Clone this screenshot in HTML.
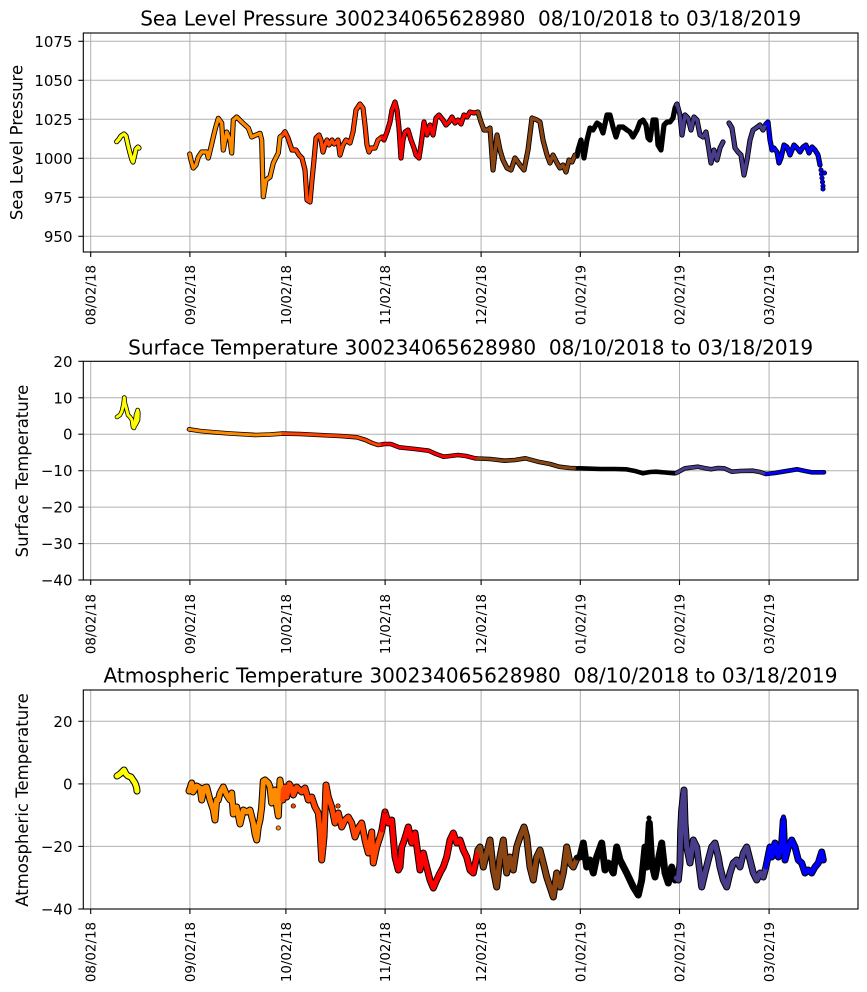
<!DOCTYPE html>
<html>
<head>
<meta charset="utf-8">
<style>
html,body{margin:0;padding:0;background:#fff;}
svg{display:block;}
text{font-family:"DejaVu Sans","Liberation Sans",sans-serif;fill:#000;}
.t{font-size:20px;white-space:pre;}
.yl{font-size:16.5px;}
.yt{font-size:15px;}
.xt{font-size:13.4px;}
.grid line{stroke:#b0b0b0;stroke-width:1;}
.ln{fill:none;stroke-linejoin:round;stroke-linecap:round;}
</style>
</head>
<body>
<svg width="867" height="992" viewBox="0 0 867 992" xmlns="http://www.w3.org/2000/svg">
<rect width="867" height="992" fill="#fff"/>

<!-- ================= SUBPLOT 1 ================= -->
<text class="t" x="470.7" y="25.5" text-anchor="middle" textLength="661" lengthAdjust="spacingAndGlyphs">Sea Level Pressure 300234065628980  08/10/2018 to 03/18/2019</text>
<g class="grid">
<line x1="90.7" y1="33" x2="90.7" y2="252"/><line x1="189.9" y1="33" x2="189.9" y2="252"/><line x1="285.9" y1="33" x2="285.9" y2="252"/><line x1="385.1" y1="33" x2="385.1" y2="252"/><line x1="481.1" y1="33" x2="481.1" y2="252"/><line x1="580.3" y1="33" x2="580.3" y2="252"/><line x1="679.5" y1="33" x2="679.5" y2="252"/><line x1="769.1" y1="33" x2="769.1" y2="252"/>
<line x1="83.3" y1="41.3" x2="858" y2="41.3"/><line x1="83.3" y1="80.3" x2="858" y2="80.3"/><line x1="83.3" y1="119.3" x2="858" y2="119.3"/><line x1="83.3" y1="158.3" x2="858" y2="158.3"/><line x1="83.3" y1="197.3" x2="858" y2="197.3"/><line x1="83.3" y1="236.3" x2="858" y2="236.3"/>
</g>
<g class="ln" stroke="#000" stroke-width="5.2">
<polyline points="116.7,141.7 119,139 121,136 124,134 126,136 128,145 130,153 132,160 133,162 134,158 136,149 138,147 139,148"/>
<polyline points="189.7,154 191,160 193.3,168 196,165 198.3,157 201.7,152 206.7,152 208.3,158 211,147 213.3,137 215.5,128 218.3,118.3 221.7,123 223.3,150 226.7,132 230,140 231.7,153 233.3,120 236.7,117 241.7,122 248.3,128 251.7,137 256,135 260,133.3 261.7,140 262.5,170 263.3,196.7 266,180 270,177 273.3,163 278.3,153 280,137 282.7,135 285,131.7 288,138 292,150 296,150 299,155 302,158 305,170 307,200 310,202 312,180 314,160 316,138 319,135 321,140 323,152 325,145 327,140 329,145 332,140 334,144 336,143 338,140 340,155 343,145 346,140 350,143 353,132 356,110 360,104 363,108 365,125 367,145 369,152 371,148 375,148 378,140 381.9,137 384,140 387,132 390,122 392,110 395,102 397,110 399,128 401,158 403,140 405,132 408,130 411,140 414,148 416,155 419,158 421,145 424,122 427,135 430,125 433,135 436,118 439,115 443,120 446,125 449,122 452,117 455,123 458,120 461,124 464,115 467,117 470,112 474,113 477.9,112 481,122 484,130 487,130 490,128 493,170 497,135 500,150 503,160 507,168 511,170 515,158 520,165 524,170 528,150 532,118 537,120 540,122 543,140 547,155 550,163 553,155 557,163 560,168 563,165 566,172 569,160 572,162 575,155 577.1,156 578,150 581,140 584,158 587,140 590,128 593,130 597,123 600,125 603,133 607,115 610,115 613,127 616,137 619,127 623,127 627,130 630,132 633,137 637,130 640,122 643,120 646,125 648,138 650,140 653,120 656,120 658,145 661,150 664,125 667,122 670,122 673,118 675,108 676.3,105 677,104 680,115 682,135 685,115 688,118 691,130 694,117 697,120 700,135 703,137 706,132 709,150 711,163 714,150 717,160 720,148 723,142"/>
<polyline points="729,123 732,128 735,148 738,152 741,155 744,175 747,160 750,140 753,130 756,128 760,125 763,130 765.9,124 768,122 770,140 772,150 774,148 777,152 779,163 781,158 784,145 787,147 790,155 794,145 797,148 800,152 803,147 806,145 809,153 812,147 815,150 818,155 820,165"/>
</g>
<g class="ln" stroke-width="3.4">
<polyline stroke="#ffff00" points="116.7,141.7 119,139 121,136 124,134 126,136 128,145 130,153 132,160 133,162 134,158 136,149 138,147 139,148"/>
<polyline stroke="#ff8c00" points="189.7,154 191,160 193.3,168 196,165 198.3,157 201.7,152 206.7,152 208.3,158 211,147 213.3,137 215.5,128 218.3,118.3 221.7,123 223.3,150 226.7,132 230,140 231.7,153 233.3,120 236.7,117 241.7,122 248.3,128 251.7,137 256,135 260,133.3 261.7,140 262.5,170 263.3,196.7 266,180 270,177 273.3,163 278.3,153 280,137 282.7,135"/>
<polyline stroke="#ff4500" points="282.7,135 285,131.7 288,138 292,150 296,150 299,155 302,158 305,170 307,200 310,202 312,180 314,160 316,138 319,135 321,140 323,152 325,145 327,140 329,145 332,140 334,144 336,143 338,140 340,155 343,145 346,140 350,143 353,132 356,110 360,104 363,108 365,125 367,145 369,152 371,148 375,148 378,140 381.9,137"/>
<polyline stroke="#ff0000" points="381.9,137 384,140 387,132 390,122 392,110 395,102 397,110 399,128 401,158 403,140 405,132 408,130 411,140 414,148 416,155 419,158 421,145 424,122 427,135 430,125 433,135 436,118 439,115 443,120 446,125 449,122 452,117 455,123 458,120 461,124 464,115 467,117 470,112 474,113 477.9,112"/>
<polyline stroke="#8b4513" points="477.9,112 481,122 484,130 487,130 490,128 493,170 497,135 500,150 503,160 507,168 511,170 515,158 520,165 524,170 528,150 532,118 537,120 540,122 543,140 547,155 550,163 553,155 557,163 560,168 563,165 566,172 569,160 572,162 575,155 577.1,156"/>
<polyline stroke="#000000" points="577.1,156 578,150 581,140 584,158 587,140 590,128 593,130 597,123 600,125 603,133 607,115 610,115 613,127 616,137 619,127 623,127 627,130 630,132 633,137 637,130 640,122 643,120 646,125 648,138 650,140 653,120 656,120 658,145 661,150 664,125 667,122 670,122 673,118 675,108 676.3,105"/>
<polyline stroke="#483d8b" points="676.3,105 677,104 680,115 682,135 685,115 688,118 691,130 694,117 697,120 700,135 703,137 706,132 709,150 711,163 714,150 717,160 720,148 723,142"/>
<polyline stroke="#483d8b" points="729,123 732,128 735,148 738,152 741,155 744,175 747,160 750,140 753,130 756,128 760,125 763,130 765.9,124"/>
<polyline stroke="#0000ff" points="765.9,124 768,122 770,140 772,150 774,148 777,152 779,163 781,158 784,145 787,147 790,155 794,145 797,148 800,152 803,147 806,145 809,153 812,147 815,150 818,155 820,165"/>
</g>
<g fill="#0000ff" stroke="#000" stroke-width="0.7">
<circle cx="821" cy="170" r="2.2"/><circle cx="821.5" cy="174" r="2.2"/><circle cx="822" cy="178" r="2.2"/><circle cx="822.5" cy="182" r="2.2"/><circle cx="823" cy="186" r="2.2"/><circle cx="823" cy="189" r="2.2"/><circle cx="824.5" cy="173" r="2.2"/>
</g>
<rect x="83.3" y="33" width="774.7" height="219" fill="none" stroke="#000" stroke-width="1.1"/>
<g stroke="#000" stroke-width="1.1">
<line x1="78.3" y1="41.3" x2="83.3" y2="41.3"/><line x1="78.3" y1="80.3" x2="83.3" y2="80.3"/><line x1="78.3" y1="119.3" x2="83.3" y2="119.3"/><line x1="78.3" y1="158.3" x2="83.3" y2="158.3"/><line x1="78.3" y1="197.3" x2="83.3" y2="197.3"/><line x1="78.3" y1="236.3" x2="83.3" y2="236.3"/>
<line x1="90.7" y1="252" x2="90.7" y2="257"/><line x1="189.9" y1="252" x2="189.9" y2="257"/><line x1="285.9" y1="252" x2="285.9" y2="257"/><line x1="385.1" y1="252" x2="385.1" y2="257"/><line x1="481.1" y1="252" x2="481.1" y2="257"/><line x1="580.3" y1="252" x2="580.3" y2="257"/><line x1="679.5" y1="252" x2="679.5" y2="257"/><line x1="769.1" y1="252" x2="769.1" y2="257"/>
</g>
<g class="yt" text-anchor="end">
<text x="72.5" y="46.8">1075</text><text x="72.5" y="85.8">1050</text><text x="72.5" y="124.8">1025</text><text x="72.5" y="163.8">1000</text><text x="72.5" y="202.8">975</text><text x="72.5" y="241.8">950</text>
</g>
<text class="yl" transform="translate(22.5,142.5) rotate(-90)" text-anchor="middle">Sea Level Pressure</text>
<g class="xt" text-anchor="end">
<text transform="translate(95.7,265) rotate(-90)">08/02/18</text>
<text transform="translate(194.9,265) rotate(-90)">09/02/18</text>
<text transform="translate(290.9,265) rotate(-90)">10/02/18</text>
<text transform="translate(390.1,265) rotate(-90)">11/02/18</text>
<text transform="translate(486.1,265) rotate(-90)">12/02/18</text>
<text transform="translate(585.3,265) rotate(-90)">01/02/19</text>
<text transform="translate(684.5,265) rotate(-90)">02/02/19</text>
<text transform="translate(774.1,265) rotate(-90)">03/02/19</text>
</g>

<!-- ================= SUBPLOT 2 ================= -->
<text class="t" x="470.7" y="354.5" text-anchor="middle" textLength="685" lengthAdjust="spacingAndGlyphs">Surface Temperature 300234065628980  08/10/2018 to 03/18/2019</text>
<g class="grid">
<line x1="90.7" y1="361.3" x2="90.7" y2="580"/><line x1="189.9" y1="361.3" x2="189.9" y2="580"/><line x1="285.9" y1="361.3" x2="285.9" y2="580"/><line x1="385.1" y1="361.3" x2="385.1" y2="580"/><line x1="481.1" y1="361.3" x2="481.1" y2="580"/><line x1="580.3" y1="361.3" x2="580.3" y2="580"/><line x1="679.5" y1="361.3" x2="679.5" y2="580"/><line x1="769.1" y1="361.3" x2="769.1" y2="580"/>
<line x1="83.3" y1="397.8" x2="858" y2="397.8"/><line x1="83.3" y1="434.2" x2="858" y2="434.2"/><line x1="83.3" y1="470.7" x2="858" y2="470.7"/><line x1="83.3" y1="507.1" x2="858" y2="507.1"/><line x1="83.3" y1="543.6" x2="858" y2="543.6"/>
</g>
<g class="ln" stroke="#000" stroke-width="4.6">
<polyline points="117,417 120,415 122,411 123.5,404 124.3,397.5 125,404 126,407 128,415 130,417 132,420 133,427 134,428 135,424 136,415 137.7,410 138.3,413 138,420 136,424 134,427"/>
<polyline points="189,429.3 200,431 214,432.3 230,433.5 256,435 270,434.5 282.7,433.6 300,434 319,435 340,436 357,437.3 365.6,440 372,443 378,445 381.9,444.5 384,444 390.8,444 399,447.3 415,449 428.7,450.7 436,454 443.5,456.7 450,456 458,455 466,456 475,458.3 477.9,458.5 490,459 504.4,460.7 515,460 525.4,458.3 538,461.7 550,464 559,466.7 570,468 577.1,468.3 580,468.3 601,469 615,469 626,469.3 635,471 643,473.3 650,472 656,471.7 665,472.5 674.7,473.3 676.3,473 685,468.3 698,466.7 704,468 711,469.3 718,468 724,468.3 732,471.7 740,471 753,470.7 760,472 765.9,474 775,473 782.6,471.7 797,469.3 805,471 811.5,472.3 824,472.3"/>
</g>
<g class="ln" stroke-width="3">
<polyline stroke="#ffff00" points="117,417 120,415 122,411 123.5,404 124.3,397.5 125,404 126,407 128,415 130,417 132,420 133,427 134,428 135,424 136,415 137.7,410 138.3,413 138,420 136,424 134,427"/>
<polyline stroke="#ff8c00" points="189,429.3 200,431 214,432.3 230,433.5 256,435 270,434.5 282.7,433.6"/>
<polyline stroke="#ff4500" points="282.7,433.6 300,434 319,435 340,436 357,437.3 365.6,440 372,443 378,445 381.9,444.5"/>
<polyline stroke="#ff0000" points="381.9,444.5 384,444 390.8,444 399,447.3 415,449 428.7,450.7 436,454 443.5,456.7 450,456 458,455 466,456 475,458.3 477.9,458.5"/>
<polyline stroke="#8b4513" points="477.9,458.5 490,459 504.4,460.7 515,460 525.4,458.3 538,461.7 550,464 559,466.7 570,468 577.1,468.3"/>
<polyline stroke="#000000" points="577.1,468.3 580,468.3 601,469 615,469 626,469.3 635,471 643,473.3 650,472 656,471.7 665,472.5 674.7,473.3 676.3,473"/>
<polyline stroke="#483d8b" points="676.3,473 685,468.3 698,466.7 704,468 711,469.3 718,468 724,468.3 732,471.7 740,471 753,470.7 760,472 765.9,474"/>
<polyline stroke="#0000ff" points="765.9,474 775,473 782.6,471.7 797,469.3 805,471 811.5,472.3 824,472.3"/>
</g>
<rect x="83.3" y="361.3" width="774.7" height="218.7" fill="none" stroke="#000" stroke-width="1.1"/>
<g stroke="#000" stroke-width="1.1">
<line x1="78.3" y1="361.3" x2="83.3" y2="361.3"/><line x1="78.3" y1="397.8" x2="83.3" y2="397.8"/><line x1="78.3" y1="434.2" x2="83.3" y2="434.2"/><line x1="78.3" y1="470.7" x2="83.3" y2="470.7"/><line x1="78.3" y1="507.1" x2="83.3" y2="507.1"/><line x1="78.3" y1="543.6" x2="83.3" y2="543.6"/><line x1="78.3" y1="580" x2="83.3" y2="580"/>
<line x1="90.7" y1="580" x2="90.7" y2="585"/><line x1="189.9" y1="580" x2="189.9" y2="585"/><line x1="285.9" y1="580" x2="285.9" y2="585"/><line x1="385.1" y1="580" x2="385.1" y2="585"/><line x1="481.1" y1="580" x2="481.1" y2="585"/><line x1="580.3" y1="580" x2="580.3" y2="585"/><line x1="679.5" y1="580" x2="679.5" y2="585"/><line x1="769.1" y1="580" x2="769.1" y2="585"/>
</g>
<g class="yt" text-anchor="end">
<text x="72.5" y="366.8">20</text><text x="72.5" y="403.3">10</text><text x="72.5" y="439.7">0</text><text x="72.5" y="476.2">−10</text><text x="72.5" y="512.6">−20</text><text x="72.5" y="549.1">−30</text><text x="72.5" y="585.5">−40</text>
</g>
<text class="yl" transform="translate(28,471) rotate(-90)" text-anchor="middle">Surface Temperature</text>
<g class="xt" text-anchor="end">
<text transform="translate(95.7,594) rotate(-90)">08/02/18</text>
<text transform="translate(194.9,594) rotate(-90)">09/02/18</text>
<text transform="translate(290.9,594) rotate(-90)">10/02/18</text>
<text transform="translate(390.1,594) rotate(-90)">11/02/18</text>
<text transform="translate(486.1,594) rotate(-90)">12/02/18</text>
<text transform="translate(585.3,594) rotate(-90)">01/02/19</text>
<text transform="translate(684.5,594) rotate(-90)">02/02/19</text>
<text transform="translate(774.1,594) rotate(-90)">03/02/19</text>
</g>

<!-- ================= SUBPLOT 3 ================= -->
<text class="t" x="470.5" y="682.5" text-anchor="middle" textLength="734" lengthAdjust="spacingAndGlyphs">Atmospheric Temperature 300234065628980  08/10/2018 to 03/18/2019</text>
<g class="grid">
<line x1="90.7" y1="690" x2="90.7" y2="909"/><line x1="189.9" y1="690" x2="189.9" y2="909"/><line x1="285.9" y1="690" x2="285.9" y2="909"/><line x1="385.1" y1="690" x2="385.1" y2="909"/><line x1="481.1" y1="690" x2="481.1" y2="909"/><line x1="580.3" y1="690" x2="580.3" y2="909"/><line x1="679.5" y1="690" x2="679.5" y2="909"/><line x1="769.1" y1="690" x2="769.1" y2="909"/>
<line x1="83.3" y1="721.3" x2="858" y2="721.3"/><line x1="83.3" y1="783.9" x2="858" y2="783.9"/><line x1="83.3" y1="846.4" x2="858" y2="846.4"/>
</g>
<g class="ln" stroke="#000" stroke-width="7">
<polyline points="117,776 120,774 123,771 124,770 126,774 128,776 131,777 133,780 135,783 136.7,788 137,791"/>
<polyline points="189,791 191.7,783 193,792 196.7,786 200,788 201.7,800 204,788 206.7,787 210,800 213.3,810 215,820 216.7,800 218.3,800 220,793 223.3,787 226.7,795 230,800 231.7,793 233.3,814 235,807 236.7,807 240,824 243.3,810 246.7,812 250,810 253.3,823 255,834 256.7,840 258.3,827 260,820 261.7,807 263.3,781 265,780 268.3,783 270,787 271.7,803 273.3,793 275,790 276.7,806 278.3,816 280,780 281.7,792 282.7,800 283.3,790 285,787 286.7,797 289.3,784 291.7,788 293.3,795 296.7,787 301.7,792 305,788 308.3,800 311.7,797 315,807 318.3,813 320,830 321.7,860 324,837 326,785 328.3,797 331.7,807 335,823 338.3,813 341.7,827 345,820 348.3,817 351.7,823 355,837 358.3,828 361.7,823 365,840 368.3,853 371.7,832 373.3,863 376.7,847 380,837 381.9,830 385,812 388.3,823 391.7,820 395,857 398.3,870 400,867 401.7,847 403.3,843 405,838 408.3,827 411.7,843 415,833 418.3,857 420,870 423.3,853 426.7,867 430,880 433.3,888 436.7,880 440,873 443.3,867 446.7,857 450,840 453.3,833 456.7,843 460,840 463.3,850 466.7,857 470,870 473.3,873 476.7,857 477.9,850 480,847 483.3,867 486.7,853 490,840 493.3,870 496.7,887 500,857 503.3,840 506.7,873 510,857 513.3,870 516.7,847 520,837 524,827 526.7,837 530,867 533.3,880 536.7,857 540,850 543.3,863 546.7,877 550,887 553.3,897 556.7,873 560,887 563.3,873 566.7,847 570,863 573.3,867 577.1,858 580,857 583.3,843 586.7,867 590,860 593.3,873 596.7,857 601.7,843 605,870 608.3,863 613.3,873 616.7,847 620,860 626.7,873 633.3,887 638.3,895 641.7,880 645,847 646.7,867 649.3,823 651.7,863 655,877 658.3,860 661.7,843 665,873 668.3,883 671.7,867 675,880 676.3,878 678.3,880 680,863 680.7,830 681.7,810 684,790 685,823 686.7,847 690,863 693.3,840 696.7,847 700,873 701.7,887 705,873 708.3,860 711.7,847 715,843 718.3,857 720,867 723.3,880 726.7,887 730,873 733.3,863 736.7,860 740,867 743.3,853 746.7,847 750,860 753.3,873 756.7,880 760,873 763.3,877 765.9,867 770,847 771.7,857 775,843 778.3,857 781.7,843 783.3,820 785,860 788.3,847 791.7,840 795,847 798.3,860 801.7,863 805,873 808.3,870 811.7,873 815,867 818.3,863 821.7,852 823.3,860"/>
</g>
<g class="ln" stroke-width="5">
<polyline stroke="#ffff00" points="117,776 120,774 123,771 124,770 126,774 128,776 131,777 133,780 135,783 136.7,788 137,791"/>
<polyline stroke="#ff8c00" points="189,791 191.7,783 193,792 196.7,786 200,788 201.7,800 204,788 206.7,787 210,800 213.3,810 215,820 216.7,800 218.3,800 220,793 223.3,787 226.7,795 230,800 231.7,793 233.3,814 235,807 236.7,807 240,824 243.3,810 246.7,812 250,810 253.3,823 255,834 256.7,840 258.3,827 260,820 261.7,807 263.3,781 265,780 268.3,783 270,787 271.7,803 273.3,793 275,790 276.7,806 278.3,816 280,780 281.7,792 282.7,800"/>
<polyline stroke="#ff4500" points="282.7,800 283.3,790 285,787 286.7,797 289.3,784 291.7,788 293.3,795 296.7,787 301.7,792 305,788 308.3,800 311.7,797 315,807 318.3,813 320,830 321.7,860 324,837 326,785 328.3,797 331.7,807 335,823 338.3,813 341.7,827 345,820 348.3,817 351.7,823 355,837 358.3,828 361.7,823 365,840 368.3,853 371.7,832 373.3,863 376.7,847 380,837 381.9,830"/>
<polyline stroke="#ff0000" points="381.9,830 385,812 388.3,823 391.7,820 395,857 398.3,870 400,867 401.7,847 403.3,843 405,838 408.3,827 411.7,843 415,833 418.3,857 420,870 423.3,853 426.7,867 430,880 433.3,888 436.7,880 440,873 443.3,867 446.7,857 450,840 453.3,833 456.7,843 460,840 463.3,850 466.7,857 470,870 473.3,873 476.7,857 477.9,850"/>
<polyline stroke="#8b4513" points="477.9,850 480,847 483.3,867 486.7,853 490,840 493.3,870 496.7,887 500,857 503.3,840 506.7,873 510,857 513.3,870 516.7,847 520,837 524,827 526.7,837 530,867 533.3,880 536.7,857 540,850 543.3,863 546.7,877 550,887 553.3,897 556.7,873 560,887 563.3,873 566.7,847 570,863 573.3,867 577.1,858"/>
<polyline stroke="#000000" points="577.1,858 580,857 583.3,843 586.7,867 590,860 593.3,873 596.7,857 601.7,843 605,870 608.3,863 613.3,873 616.7,847 620,860 626.7,873 633.3,887 638.3,895 641.7,880 645,847 646.7,867 649.3,823 651.7,863 655,877 658.3,860 661.7,843 665,873 668.3,883 671.7,867 675,880 676.3,878"/>
<polyline stroke="#483d8b" points="676.3,878 678.3,880 680,863 680.7,830 681.7,810 684,790 685,823 686.7,847 690,863 693.3,840 696.7,847 700,873 701.7,887 705,873 708.3,860 711.7,847 715,843 718.3,857 720,867 723.3,880 726.7,887 730,873 733.3,863 736.7,860 740,867 743.3,853 746.7,847 750,860 753.3,873 756.7,880 760,873 763.3,877 765.9,867"/>
<polyline stroke="#0000ff" points="765.9,867 770,847 771.7,857 775,843 778.3,857 781.7,843 783.3,820 785,860 788.3,847 791.7,840 795,847 798.3,860 801.7,863 805,873 808.3,870 811.7,873 815,867 818.3,863 821.7,852 823.3,860"/>
</g>
<g stroke="#000" stroke-width="0.7">
<circle cx="278.3" cy="828" r="2.2" fill="#ff8c00"/>
<circle cx="293.3" cy="806" r="2.2" fill="#ff4500"/>
<circle cx="338" cy="806" r="2.2" fill="#ff4500"/>
<circle cx="385" cy="811" r="2.2" fill="#ff0000"/>
<circle cx="649" cy="818" r="2.2" fill="#000"/>
<circle cx="783.5" cy="817" r="2.2" fill="#0000ff"/>
</g>
<rect x="83.3" y="690" width="774.7" height="219" fill="none" stroke="#000" stroke-width="1.1"/>
<g stroke="#000" stroke-width="1.1">
<line x1="78.3" y1="721.3" x2="83.3" y2="721.3"/><line x1="78.3" y1="783.9" x2="83.3" y2="783.9"/><line x1="78.3" y1="846.4" x2="83.3" y2="846.4"/><line x1="78.3" y1="909" x2="83.3" y2="909"/>
<line x1="90.7" y1="909" x2="90.7" y2="914"/><line x1="189.9" y1="909" x2="189.9" y2="914"/><line x1="285.9" y1="909" x2="285.9" y2="914"/><line x1="385.1" y1="909" x2="385.1" y2="914"/><line x1="481.1" y1="909" x2="481.1" y2="914"/><line x1="580.3" y1="909" x2="580.3" y2="914"/><line x1="679.5" y1="909" x2="679.5" y2="914"/><line x1="769.1" y1="909" x2="769.1" y2="914"/>
</g>
<g class="yt" text-anchor="end">
<text x="72.5" y="726.8">20</text><text x="72.5" y="789.4">0</text><text x="72.5" y="851.9">−20</text><text x="72.5" y="914.5">−40</text>
</g>
<text class="yl" transform="translate(28,800) rotate(-90)" text-anchor="middle">Atmospheric Temperature</text>
<g class="xt" text-anchor="end">
<text transform="translate(95.7,922) rotate(-90)">08/02/18</text>
<text transform="translate(194.9,922) rotate(-90)">09/02/18</text>
<text transform="translate(290.9,922) rotate(-90)">10/02/18</text>
<text transform="translate(390.1,922) rotate(-90)">11/02/18</text>
<text transform="translate(486.1,922) rotate(-90)">12/02/18</text>
<text transform="translate(585.3,922) rotate(-90)">01/02/19</text>
<text transform="translate(684.5,922) rotate(-90)">02/02/19</text>
<text transform="translate(774.1,922) rotate(-90)">03/02/19</text>
</g>
</svg>
</body>
</html>
